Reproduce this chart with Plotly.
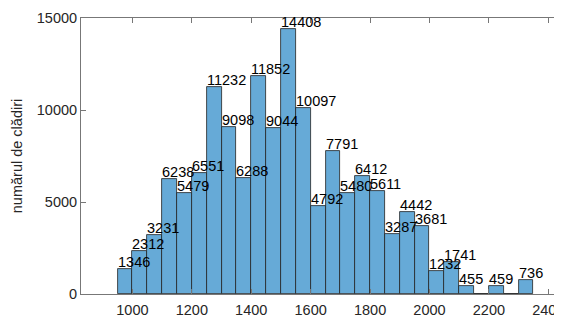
import plotly.graph_objects as go

bin_edges = [950, 1000, 1050, 1100, 1150, 1200, 1250, 1300, 1350, 1400, 1450, 1500, 1550,
             1600, 1650, 1700, 1750, 1800, 1850, 1900, 1950, 2000, 2050, 2100, 2150, 2200,
             2250, 2300]
counts = [1346, 2312, 3231, 6238, 5479, 6551, 11232, 9098, 6288, 11852, 9044, 14408, 10097,
          4792, 7791, 5480, 6412, 5611, 3287, 4442, 3681, 1232, 1741, 455, 0, 459, 0, 736]
bin_width = 50
x_ticks = [1000, 1200, 1400, 1600, 1800, 2000, 2200, 2400]
y_ticks = [0, 5000, 10000, 15000]
y_tick_labels = ["0", "5000", "10000", "15000"]
y_title = "numărul de clădiri"

centers = [e + bin_width / 2 for e in bin_edges]
FONT = "Liberation Sans, Arial"

fig = go.Figure()
fig.add_trace(go.Bar(
    x=centers, y=counts, width=[bin_width] * len(counts),
    marker=dict(color="rgb(102,170,215)", line=dict(color="#222222", width=0.8)),
    hoverinfo="skip",
))

for e, c in zip(bin_edges, counts):
    if c > 0:
        fig.add_annotation(x=e, y=c, text=str(c), showarrow=False,
                           xanchor="left", yanchor="bottom", xshift=-2, yshift=-3,
                           font=dict(family=FONT, size=14.5, color="#000"))

axis_common = dict(showgrid=False, zeroline=False, showline=True, linecolor="#777",
                   linewidth=1, ticks="inside", ticklen=5, tickcolor="#777",
                   automargin=False,
                   tickfont=dict(family=FONT, size=14.5, color="#262626"))

fig.update_layout(
    width=562, height=320,
    margin=dict(l=73, r=0, t=10, b=34),
    plot_bgcolor="white", paper_bgcolor="white",
    showlegend=False, bargap=0,
    xaxis=dict(range=[827, 2473], tickvals=x_ticks, mirror="ticks",
               ticklabelstandoff=3, **axis_common),
    yaxis=dict(range=[0, 15000], tickvals=y_ticks, ticktext=y_tick_labels,
               title=dict(text=y_title, standoff=10,
                          font=dict(family=FONT, size=14.5, color="#262626")),
               **axis_common),
)

fig.write_html("out.html")
